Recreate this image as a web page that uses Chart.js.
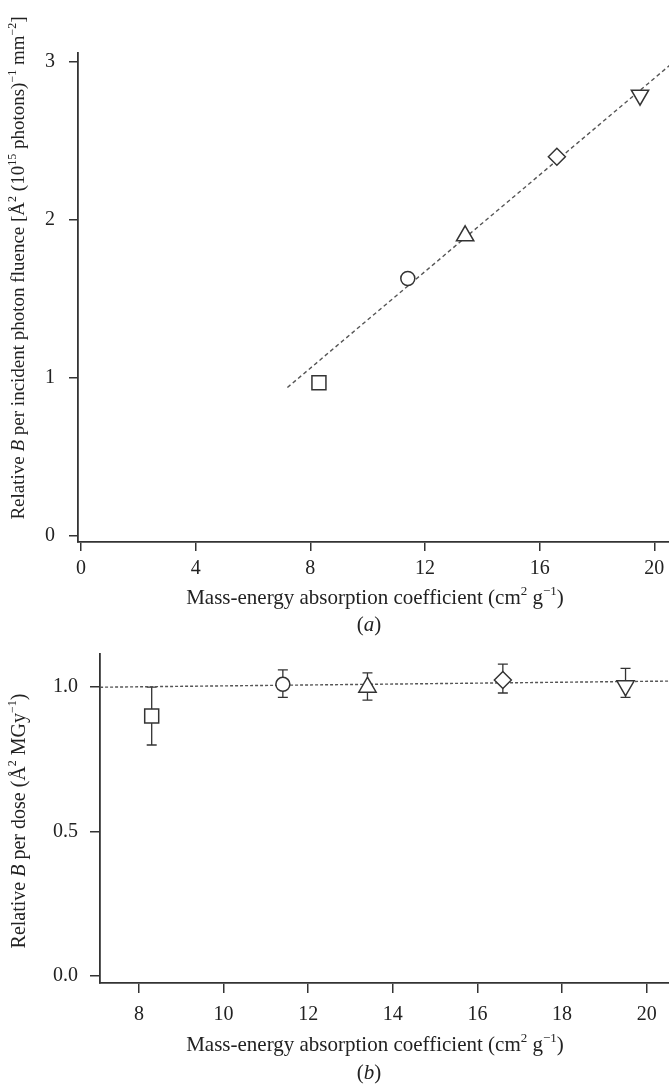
<!DOCTYPE html>
<html><head><meta charset="utf-8">
<script src="https://cdn.jsdelivr.net/npm/chart.js@4/dist/chart.umd.min.js"></script>
<style>
html,body{margin:0;padding:0;background:#fff;overflow:hidden;width:669px;height:1085px;position:relative;}
#ca{position:absolute;left:0;top:0;}
#cb{position:absolute;left:0;top:640px;}
</style></head><body>
<canvas id="ca" width="720" height="640"></canvas>
<canvas id="cb" width="720" height="445"></canvas>
<script>
// ---- data ----
const coeffs = [8.3, 11.4, 13.4, 16.6, 19.5];
const relBFluence = [0.97, 1.63, 1.90, 2.40, 2.79];
const fitAx = [7.2, 21.0];
const fitAy = [0.94, 3.05];
const relBDose = [0.90, 1.01, 1.00, 1.025, 1.005];
const doseLow = [0.80, 0.965, 0.955, 0.98, 0.965];
const doseHigh = [1.00, 1.06, 1.05, 1.08, 1.065];
const fitBx = [7.08, 21.0];
const fitBy = [1.0, 1.022];
const xTicksA = [0, 4, 8, 12, 16, 20];
const yTicksA = [0, 1, 2, 3];
const xTicksB = [8, 10, 12, 14, 16, 18, 20];
const yTicksB = [0.0, 0.5, 1.0];

// ---- styles ----
const markerStyles = ['rect', 'circle', 'triangle', 'rectRot', 'triangle'];
const markerRot = [0, 0, 0, 0, 180];
const markerRad = [9.9, 7, 10, 8.5, 10];
const INK = '#333';
const TXT = '#222';
const FAM = '"Liberation Serif", "DejaVu Serif", serif';

function drawRich(ctx, segs, cx, cy, size, rot) {
  ctx.save();
  ctx.translate(cx, cy);
  if (rot) ctx.rotate(rot);
  const fontFor = s => (s.i ? 'italic ' : '') + (s.sup ? Math.round(size * 0.62) : size) + 'px ' + FAM;
  let total = 0;
  segs.forEach(s => { ctx.font = fontFor(s); s.w = ctx.measureText(s.t).width; total += s.w; });
  let x = -total / 2;
  ctx.fillStyle = TXT;
  ctx.textBaseline = 'alphabetic';
  ctx.textAlign = 'left';
  const base = size * 0.33;
  segs.forEach(s => { ctx.font = fontFor(s); ctx.fillText(s.t, x, base - (s.sup ? size * 0.42 : 0)); x += s.w; });
  ctx.restore();
}

const xTitle = [{t: 'Mass-energy absorption coefficient (cm'}, {t: '2', sup: true}, {t: ' g'}, {t: '\u22121', sup: true}, {t: ')'}];
const yTitleA = [{t: 'Relative '}, {t: 'B', i: true}, {t: ' per incident photon fluence [\u00C5'}, {t: '2', sup: true},
  {t: ' (10'}, {t: '15', sup: true}, {t: ' photons)'}, {t: '\u22121', sup: true}, {t: ' mm'}, {t: '\u22122', sup: true}, {t: ']'}];
const yTitleB = [{t: 'Relative '}, {t: 'B', i: true}, {t: ' per dose (\u00C5'}, {t: '2', sup: true}, {t: ' MGy'}, {t: '\u22121', sup: true}, {t: ')'}];
const capA = [{t: '('}, {t: 'a', i: true}, {t: ')'}];
const capB = [{t: '('}, {t: 'b', i: true}, {t: ')'}];

function axisCfg(min, max, ticks, fmt, fitProp, fitVal, pad, tlen) {
  return {
    type: 'linear', min: min, max: max,
    afterBuildTicks: s => { s.ticks = ticks.map(v => ({value: v})); },
    afterFit: s => {
      s[fitProp] = fitVal;
      s.paddingTop = 0; s.paddingBottom = 0; s.paddingLeft = 0; s.paddingRight = 0;
    },
    grid: {display: true, drawOnChartArea: false, drawTicks: true, tickLength: tlen, color: INK, lineWidth: 1.5},
    border: {display: true, color: INK, width: 1.8},
    ticks: {autoSkip: false, maxRotation: 0, padding: pad, color: TXT, font: {family: FAM, size: 20}, callback: fmt}
  };
}

const titlesA = {
  id: 'titlesA',
  afterDraw(chart) {
    const c = chart.ctx;
    drawRich(c, yTitleA, 18, 268, 19, -Math.PI / 2);
    drawRich(c, xTitle, 375, 597, 21, 0);
    drawRich(c, capA, 369, 624, 21, 0);
  }
};
const titlesB = {
  id: 'titlesB',
  afterDraw(chart) {
    const c = chart.ctx;
    drawRich(c, yTitleB, 18, 821 - 640, 20, -Math.PI / 2);
    drawRich(c, xTitle, 375, 1044 - 640, 21, 0);
    drawRich(c, capB, 369, 1072 - 640, 21, 0);
  }
};
const errBars = {
  id: 'errBars',
  beforeDatasetsDraw(chart) {
    const c = chart.ctx, xs = chart.scales.x, ys = chart.scales.y;
    c.save();
    c.strokeStyle = INK; c.lineWidth = 1.3;
    coeffs.forEach((xv, i) => {
      const x = xs.getPixelForValue(xv);
      const y1 = ys.getPixelForValue(doseLow[i]);
      const y2 = ys.getPixelForValue(doseHigh[i]);
      c.beginPath();
      c.moveTo(x, y1); c.lineTo(x, y2);
      c.moveTo(x - 5, y1); c.lineTo(x + 5, y1);
      c.moveTo(x - 5, y2); c.lineTo(x + 5, y2);
      c.stroke();
    });
    c.restore();
  }
};

function markerDataset(yvals) {
  return {
    type: 'scatter', order: 0,
    data: coeffs.map((x, i) => ({x: x, y: yvals[i]})),
    showLine: false,
    pointStyle: markerStyles, rotation: markerRot, pointRadius: markerRad,
    pointBackgroundColor: '#fff', pointBorderColor: INK, pointBorderWidth: 1.5
  };
}
function fitDataset(xs, ys, dash) {
  return {
    type: 'line', order: 1,
    data: xs.map((x, i) => ({x: x, y: ys[i]})),
    borderColor: '#555', borderWidth: 1.4, borderDash: dash, pointRadius: 0, fill: false, tension: 0
  };
}

const common = {
  responsive: false, animation: false,
  plugins: {legend: {display: false}, tooltip: {enabled: false}},
  events: []
};

new Chart(document.getElementById('ca'), {
  type: 'scatter',
  data: {datasets: [markerDataset(relBFluence), fitDataset(fitAx, fitAy, [4, 3])]},
  options: Object.assign({}, common, {
    layout: {padding: {top: 53, right: 37, left: 0, bottom: 0}},
    scales: {
      x: axisCfg(-0.105, 21.0, xTicksA, v => String(v), 'height', 98, 6, 9),
      y: axisCfg(-0.038, 3.057, yTicksA, v => String(v), 'width', 78, 14, 9)
    }
  }),
  plugins: [titlesA]
});

new Chart(document.getElementById('cb'), {
  type: 'scatter',
  data: {datasets: [markerDataset(relBDose), fitDataset(fitBx, fitBy, [3, 2])]},
  options: Object.assign({}, common, {
    layout: {padding: {top: 14, right: 31, left: 0, bottom: 0}},
    scales: {
      x: axisCfg(7.078, 21.0, xTicksB, v => String(v), 'height', 102, 10, 10),
      y: axisCfg(-0.024, 1.115, yTicksB, v => v.toFixed(1), 'width', 100, 12, 10)
    }
  }),
  plugins: [errBars, titlesB]
});
</script>
</body></html>
